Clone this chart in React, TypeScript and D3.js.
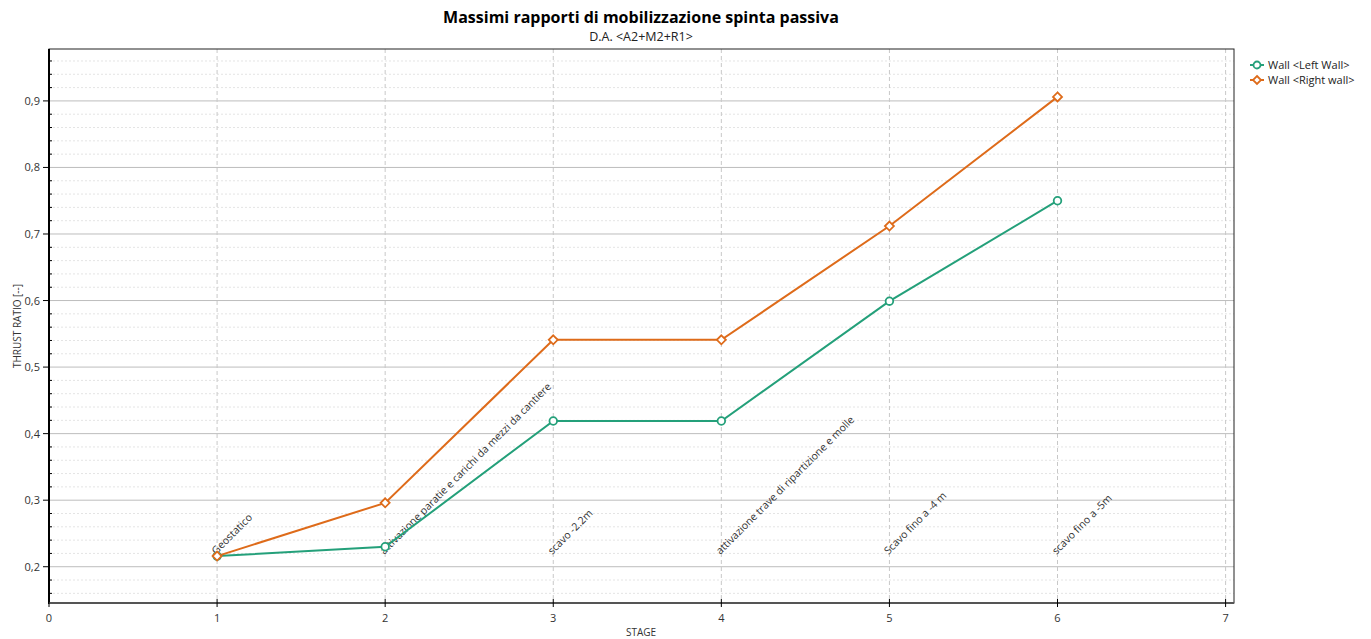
import React from "react";
import * as d3 from "d3";

const stages = [1, 2, 3, 4, 5, 6];
const stageLabels = [
  "Geostatico",
  "attivazione paratie e carichi da mezzi da cantiere",
  "scavo -2.2m",
  "attivazione trave di ripartizione e molle",
  "Scavo fino a -4 m",
  "scavo fino a -5m",
];
const leftWall = [0.216, 0.23, 0.419, 0.419, 0.599, 0.75];
const rightWall = [0.216, 0.296, 0.541, 0.541, 0.712, 0.906];
const xTicks = [0, 1, 2, 3, 4, 5, 6, 7];
const yTicks = [0.2, 0.3, 0.4, 0.5, 0.6, 0.7, 0.8, 0.9];
const seriesNames = ["Wall <Left Wall>", "Wall <Right wall>"];

const W = 1371;
const H = 639;
const M = { left: 49, right: 1234, top: 49, bottom: 603 };
const GREEN = "#24a07a";
const ORANGE = "#de6b1a";
const FONT = "'Open Sans', 'Noto Sans', sans-serif";

export default function App() {
  const x = d3.scaleLinear().domain([0, 7.05]).range([M.left, M.right]);
  const y = d3.scaleLinear().domain([0.1455, 0.978]).range([M.bottom, M.top]);
  const line = d3
    .line<number>()
    .x((_, i) => x(stages[i]))
    .y((d) => y(d));
  const minor = d3.range(0.16, 0.98, 0.02).filter((v) => Math.abs(v * 10 - Math.round(v * 10)) > 0.01);
  const diamond = (cx: number, cy: number, r: number) =>
    `M${cx},${cy - r}L${cx + r},${cy}L${cx},${cy + r}L${cx - r},${cy}Z`;

  return (
    <svg width={W} height={H} style={{ position: "absolute", left: 0, top: 0, fontFamily: FONT }}>
      <rect width={W} height={H} fill="#fff" />
      <text x={641} y={23} textAnchor="middle" fontSize={16} fontWeight="bold" fill="#000">
        Massimi rapporti di mobilizzazione spinta passiva
      </text>
      <text x={641} y={41} textAnchor="middle" fontSize={12.5} fill="#222">
        D.A. &lt;A2+M2+R1&gt;
      </text>
      {/* minor grid */}
      {minor.map((v, i) => (
        <line key={"mg" + i} x1={M.left} x2={M.right} y1={y(v)} y2={y(v)} stroke="#e4e4e4" strokeDasharray="2,2" />
      ))}
      {/* major grid */}
      {yTicks.map((v) => (
        <line key={"yg" + v} x1={M.left} x2={M.right} y1={y(v)} y2={y(v)} stroke="#bdbdbd" />
      ))}
      {xTicks.slice(1).map((v) => (
        <line key={"xg" + v} x1={x(v)} x2={x(v)} y1={M.top} y2={M.bottom} stroke="#c8c8c8" strokeDasharray="4,3" />
      ))}
      {/* frame */}
      <rect x={M.left} y={M.top} width={M.right - M.left} height={M.bottom - M.top} fill="none" stroke="#222" strokeWidth={1} />
      <line x1={M.left} x2={M.left} y1={M.top} y2={M.bottom + 1} stroke="#000" strokeWidth={2} />
      <line x1={M.left} x2={M.right} y1={M.bottom} y2={M.bottom} stroke="#555" strokeWidth={2} />
      {/* y ticks */}
      {yTicks.map((v) => (
        <g key={"yt" + v}>
          <line x1={M.left - 6} x2={M.left} y1={y(v)} y2={y(v)} stroke="#000" />
          <text x={M.left - 9} y={y(v) + 4} textAnchor="end" fontSize={11} fill="#333">
            {d3.format(".1f")(v).replace(".", ",")}
          </text>
        </g>
      ))}
      {minor.map((v, i) => (
        <line key={"mt" + i} x1={M.left} x2={M.left + 3} y1={y(v)} y2={y(v)} stroke="#000" />
      ))}
      {/* x ticks */}
      {xTicks.map((v) => (
        <g key={"xt" + v}>
          <line x1={x(v)} x2={x(v)} y1={M.bottom - 4} y2={M.bottom + 4} stroke="#000" />
          <text x={x(v)} y={M.bottom + 19} textAnchor="middle" fontSize={11} fill="#333">
            {v}
          </text>
        </g>
      ))}
      <text x={641} y={636} textAnchor="middle" fontSize={10} fill="#333">
        STAGE
      </text>
      <text transform={`translate(21,${(M.top + M.bottom) / 2}) rotate(-90)`} textAnchor="middle" fontSize={10} fill="#333">
        THRUST RATIO [--]
      </text>
      {/* stage labels */}
      {stageLabels.map((s, i) => (
        <text
          key={"sl" + i}
          transform={`translate(${x(stages[i]) - 1},${555}) rotate(-45)`}
          fontSize={10.5}
          fill="#333"
        >
          {s}
        </text>
      ))}
      {/* series */}
      <path d={line(leftWall) || ""} fill="none" stroke={GREEN} strokeWidth={2} />
      <path d={line(rightWall) || ""} fill="none" stroke={ORANGE} strokeWidth={2} />
      {leftWall.map((v, i) => (
        <circle key={"lc" + i} cx={x(stages[i])} cy={y(v)} r={3.8} fill="#fff" stroke={GREEN} strokeWidth={1.8} />
      ))}
      {rightWall.map((v, i) => (
        <path key={"rd" + i} d={diamond(x(stages[i]), y(v), 4.5)} fill="#fff" stroke={ORANGE} strokeWidth={1.8} />
      ))}
      {/* legend */}
      {[GREEN, ORANGE].map((c, i) => (
        <g key={"lg" + i} transform={`translate(1250,${65 + i * 15})`}>
          <line x1={0} x2={14} y1={0} y2={0} stroke={c} strokeWidth={2} />
          {i === 0 ? (
            <circle cx={7} cy={0} r={3.5} fill="#fff" stroke={c} strokeWidth={1.8} />
          ) : (
            <path d={diamond(7, 0, 4)} fill="#fff" stroke={c} strokeWidth={1.8} />
          )}
          <text x={18} y={4} fontSize={11} fill="#222">
            {seriesNames[i]}
          </text>
        </g>
      ))}
    </svg>
  );
}
